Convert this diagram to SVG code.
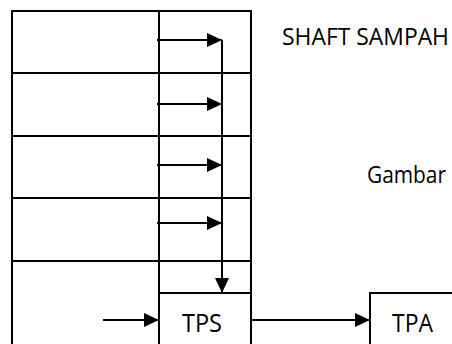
<svg xmlns="http://www.w3.org/2000/svg" width="452" height="344" viewBox="0 0 452 344">
<style>
.ln{stroke:#000;stroke-width:2;fill:none}
.t{font-family:"Open Sans","Noto Sans",sans-serif;fill:#000}
.ar{stroke:#000;stroke-width:2;fill:none;marker-end:url(#ah)}
</style>
<defs>
<marker id="ah" viewBox="0 0 15 14" refX="15" refY="7" markerWidth="15" markerHeight="14" markerUnits="userSpaceOnUse" orient="auto">
<path d="M0,0 L15,7 L0,14 Z" fill="#000"/>
</marker>
</defs>
<g id="shaft-building">
<path class="ln" d="M12,345 V11 H251 V345 M159,11 V293 M12,73 H251 M12,136 H251 M12,198 H251 M12,261 H251"/>
</g>
<g id="tps">
<path class="ln" d="M159,345 V293 H251"/>
<text class="t" x="182" y="332" font-size="26" textLength="40" lengthAdjust="spacingAndGlyphs">TPS</text>
</g>
<g id="tpa">
<path class="ln" d="M370,345 V293 H453"/>
<text class="t" x="392" y="332" font-size="26" textLength="41" lengthAdjust="spacingAndGlyphs">TPA</text>
</g>
<g id="label-shaft">
<text class="t" x="282" y="45" font-size="23" textLength="167" lengthAdjust="spacingAndGlyphs">SHAFT SAMPAH</text>
</g>
<g id="label-gambar">
<text class="t" x="367" y="183" font-size="23" textLength="79" lengthAdjust="spacingAndGlyphs">Gambar</text>
</g>
<g id="connectors">
<path class="ar" d="M157,40 H222"/>
<path class="ar" d="M157,104 H222"/>
<path class="ar" d="M157,165 H222"/>
<path class="ar" d="M157,223 H222"/>
<path class="ar" d="M222,40 V293"/>
<path class="ar" d="M103,320 H159"/>
<path class="ar" d="M251,320 H370"/>
</g>
</svg>
